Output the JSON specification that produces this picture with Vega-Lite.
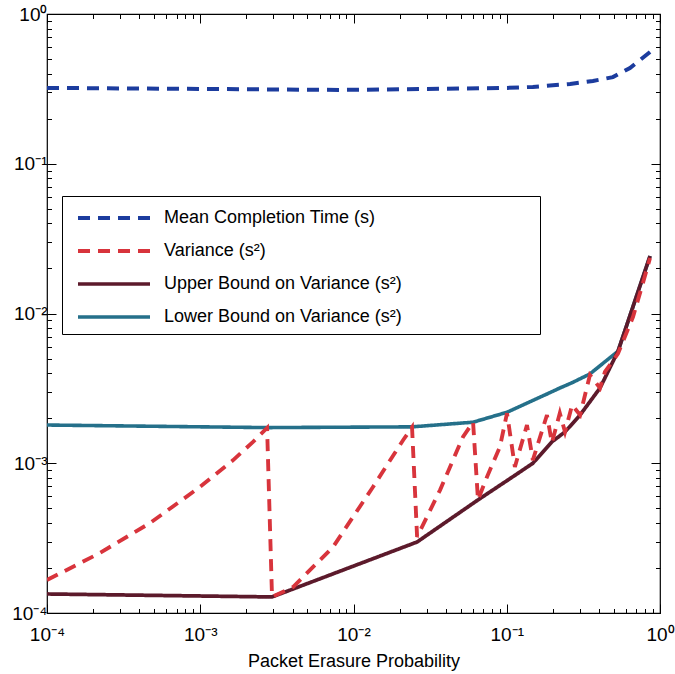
{
  "$schema": "https://vega.github.io/schema/vega-lite/v6.json",
  "width": 613,
  "height": 599,
  "autosize": {"type": "none"},
  "padding": {"left": 47, "top": 14, "right": 15, "bottom": 61},
  "background": "white",
  "config": {
    "font": "Liberation Sans",
    "view": {"stroke": "black", "strokeWidth": 1.2},
    "axis": {"grid": false, "domain": false, "tickColor": "black", "labelColor": "black", "titleColor": "black", "tickWidth": 1},
    "legend": {
      "orient": "none", "legendX": 15, "legendY": 182,
      "strokeColor": "black", "fillColor": "white", "padding": 8,
      "labelFontSize": 18, "labelColor": "black", "labelLimit": 800,
      "symbolType": "M-3,0H3", "symbolSize": 576, "symbolOffset": 30, "labelOffset": 36, "rowPadding": 10
    }
  },
  "data": {"values": [
    {"s": "Lower Bound on Variance (s²)", "x": 0.0001, "y": 0.0018},
    {"s": "Lower Bound on Variance (s²)", "x": 0.00273, "y": 0.00173},
    {"s": "Lower Bound on Variance (s²)", "x": 0.0241, "y": 0.00175},
    {"s": "Lower Bound on Variance (s²)", "x": 0.0603, "y": 0.00188},
    {"s": "Lower Bound on Variance (s²)", "x": 0.1004, "y": 0.00219},
    {"s": "Lower Bound on Variance (s²)", "x": 0.1355, "y": 0.00252},
    {"s": "Lower Bound on Variance (s²)", "x": 0.183, "y": 0.0029},
    {"s": "Lower Bound on Variance (s²)", "x": 0.222, "y": 0.00318},
    {"s": "Lower Bound on Variance (s²)", "x": 0.267, "y": 0.00345},
    {"s": "Lower Bound on Variance (s²)", "x": 0.349, "y": 0.00395},
    {"s": "Lower Bound on Variance (s²)", "x": 0.532, "y": 0.0056},
    {"s": "Lower Bound on Variance (s²)", "x": 0.861, "y": 0.0242},

    {"s": "Upper Bound on Variance (s²)", "x": 0.0001, "y": 0.000134},
    {"s": "Upper Bound on Variance (s²)", "x": 0.00294, "y": 0.000128},
    {"s": "Upper Bound on Variance (s²)", "x": 0.026, "y": 0.000298},
    {"s": "Upper Bound on Variance (s²)", "x": 0.0649, "y": 0.000569},
    {"s": "Upper Bound on Variance (s²)", "x": 0.113, "y": 0.00083},
    {"s": "Upper Bound on Variance (s²)", "x": 0.148, "y": 0.001},
    {"s": "Upper Bound on Variance (s²)", "x": 0.197, "y": 0.00139},
    {"s": "Upper Bound on Variance (s²)", "x": 0.24, "y": 0.00162},
    {"s": "Upper Bound on Variance (s²)", "x": 0.301, "y": 0.0021},
    {"s": "Upper Bound on Variance (s²)", "x": 0.406, "y": 0.00318},
    {"s": "Upper Bound on Variance (s²)", "x": 0.532, "y": 0.0056},
    {"s": "Upper Bound on Variance (s²)", "x": 0.861, "y": 0.0242},

    {"s": "Variance (s²)", "x": 0.0001, "y": 0.000166},
    {"s": "Variance (s²)", "x": 0.000222, "y": 0.000252},
    {"s": "Variance (s²)", "x": 0.00047, "y": 0.000399},
    {"s": "Variance (s²)", "x": 0.000995, "y": 0.000694},
    {"s": "Variance (s²)", "x": 0.00164, "y": 0.00105},
    {"s": "Variance (s²)", "x": 0.00221, "y": 0.00139},
    {"s": "Variance (s²)", "x": 0.00273, "y": 0.00172},
    {"s": "Variance (s²)", "x": 0.00294, "y": 0.000128},
    {"s": "Variance (s²)", "x": 0.00403, "y": 0.000149},
    {"s": "Variance (s²)", "x": 0.00735, "y": 0.000276},
    {"s": "Variance (s²)", "x": 0.0134, "y": 0.000694},
    {"s": "Variance (s²)", "x": 0.0211, "y": 0.00143},
    {"s": "Variance (s²)", "x": 0.0241, "y": 0.00174},
    {"s": "Variance (s²)", "x": 0.026, "y": 0.000322},
    {"s": "Variance (s²)", "x": 0.0367, "y": 0.000662},
    {"s": "Variance (s²)", "x": 0.0518, "y": 0.0015},
    {"s": "Variance (s²)", "x": 0.0603, "y": 0.00188},
    {"s": "Variance (s²)", "x": 0.0649, "y": 0.000569},
    {"s": "Variance (s²)", "x": 0.0743, "y": 0.00081},
    {"s": "Variance (s²)", "x": 0.0903, "y": 0.00129},
    {"s": "Variance (s²)", "x": 0.1004, "y": 0.00216},
    {"s": "Variance (s²)", "x": 0.113, "y": 0.000945},
    {"s": "Variance (s²)", "x": 0.1355, "y": 0.0018},
    {"s": "Variance (s²)", "x": 0.148, "y": 0.00105},
    {"s": "Variance (s²)", "x": 0.183, "y": 0.0021},
    {"s": "Variance (s²)", "x": 0.197, "y": 0.00137},
    {"s": "Variance (s²)", "x": 0.222, "y": 0.00216},
    {"s": "Variance (s²)", "x": 0.24, "y": 0.00162},
    {"s": "Variance (s²)", "x": 0.267, "y": 0.00245},
    {"s": "Variance (s²)", "x": 0.301, "y": 0.0021},
    {"s": "Variance (s²)", "x": 0.349, "y": 0.00388},
    {"s": "Variance (s²)", "x": 0.406, "y": 0.00318},
    {"s": "Variance (s²)", "x": 0.437, "y": 0.00407},
    {"s": "Variance (s²)", "x": 0.532, "y": 0.0054},
    {"s": "Variance (s²)", "x": 0.667, "y": 0.0095},
    {"s": "Variance (s²)", "x": 0.774, "y": 0.016},
    {"s": "Variance (s²)", "x": 0.861, "y": 0.0235},

    {"s": "Mean Completion Time (s)", "x": 0.0001, "y": 0.321},
    {"s": "Mean Completion Time (s)", "x": 0.000995, "y": 0.316},
    {"s": "Mean Completion Time (s)", "x": 0.00816, "y": 0.311},
    {"s": "Mean Completion Time (s)", "x": 0.1004, "y": 0.321},
    {"s": "Mean Completion Time (s)", "x": 0.148, "y": 0.326},
    {"s": "Mean Completion Time (s)", "x": 0.259, "y": 0.341},
    {"s": "Mean Completion Time (s)", "x": 0.365, "y": 0.357},
    {"s": "Mean Completion Time (s)", "x": 0.493, "y": 0.379},
    {"s": "Mean Completion Time (s)", "x": 0.637, "y": 0.436},
    {"s": "Mean Completion Time (s)", "x": 0.861, "y": 0.557}
  ]},
  "resolve": {"axis": {"x": "independent", "y": "independent"}},
  "layer": [
    {
      "mark": {"type": "line", "clip": true},
      "encoding": {
        "x": {
          "field": "x", "type": "quantitative",
          "scale": {"type": "log", "domain": [0.0001, 1], "nice": false},
          "axis": {
            "orient": "bottom",
            "values": [0.0001,0.0002,0.0003,0.0004,0.0005,0.0006,0.0007,0.0008,0.0009,0.001,0.002,0.003,0.004,0.005,0.006,0.007,0.008,0.009,0.01,0.02,0.03,0.04,0.05,0.06,0.07,0.08,0.09,0.1,0.2,0.3,0.4,0.5,0.6,0.7,0.8,0.9,1],
            "labelExpr": "abs(log(datum.value)/LN10 - round(log(datum.value)/LN10)) < 0.001 ? (round(log(datum.value)/LN10) == 0 ? '10⁰' : round(log(datum.value)/LN10) == -1 ? '10⁻¹' : round(log(datum.value)/LN10) == -2 ? '10⁻²' : round(log(datum.value)/LN10) == -3 ? '10⁻³' : '10⁻⁴') : ''",
            "tickSize": {"condition": {"test": "abs(log(datum.value)/LN10 - round(log(datum.value)/LN10)) < 0.001", "value": -9}, "value": -4.5},
            "labelFontSize": 19, "labelPadding": 21, "labelFlush": false, "labelOverlap": false,
            "title": "Packet Erasure Probability", "titleFontSize": 18, "titleFontWeight": "normal", "titlePadding": 4
          }
        },
        "y": {
          "field": "y", "type": "quantitative",
          "scale": {"type": "log", "domain": [0.0001, 1], "nice": false},
          "axis": {
            "orient": "left",
            "values": [0.0001,0.0002,0.0003,0.0004,0.0005,0.0006,0.0007,0.0008,0.0009,0.001,0.002,0.003,0.004,0.005,0.006,0.007,0.008,0.009,0.01,0.02,0.03,0.04,0.05,0.06,0.07,0.08,0.09,0.1,0.2,0.3,0.4,0.5,0.6,0.7,0.8,0.9,1],
            "labelExpr": "abs(log(datum.value)/LN10 - round(log(datum.value)/LN10)) < 0.001 ? (round(log(datum.value)/LN10) == 0 ? '10⁰' : round(log(datum.value)/LN10) == -1 ? '10⁻¹' : round(log(datum.value)/LN10) == -2 ? '10⁻²' : round(log(datum.value)/LN10) == -3 ? '10⁻³' : '10⁻⁴') : ''",
            "tickSize": {"condition": {"test": "abs(log(datum.value)/LN10 - round(log(datum.value)/LN10)) < 0.001", "value": -9}, "value": -4.5},
            "labelFontSize": 19, "labelPadding": 9, "labelFlush": false, "labelOverlap": false,
            "title": null
          }
        },
        "color": {
          "field": "s", "type": "nominal",
          "scale": {
            "domain": ["Mean Completion Time (s)", "Variance (s²)", "Upper Bound on Variance (s²)", "Lower Bound on Variance (s²)"],
            "range": ["#1c3c9e", "#d8343c", "#5c1a2b", "#25708a"]
          },
          "legend": {"title": null, "labelExpr": "datum.label + '\u00a0\u00a0\u00a0\u00a0\u00a0\u00a0\u00a0\u00a0\u00a0\u00a0\u00a0\u00a0\u00a0\u00a0\u00a0\u00a0\u00a0\u00a0\u00a0\u00a0\u00a0\u00a0\u00a0\u00a0\u00a0\u00a0\u200b'"}
        },
        "strokeDash": {
          "field": "s", "type": "nominal",
          "scale": {
            "domain": ["Mean Completion Time (s)", "Variance (s²)", "Upper Bound on Variance (s²)", "Lower Bound on Variance (s²)"],
            "range": [[12, 8], [12, 8], [1, 0], [1, 0]]
          },
          "legend": {"title": null, "labelExpr": "datum.label + '\u00a0\u00a0\u00a0\u00a0\u00a0\u00a0\u00a0\u00a0\u00a0\u00a0\u00a0\u00a0\u00a0\u00a0\u00a0\u00a0\u00a0\u00a0\u00a0\u00a0\u00a0\u00a0\u00a0\u00a0\u00a0\u00a0\u200b'"}
        },
        "strokeWidth": {
          "field": "s", "type": "nominal",
          "scale": {
            "domain": ["Mean Completion Time (s)", "Variance (s²)", "Upper Bound on Variance (s²)", "Lower Bound on Variance (s²)"],
            "range": [4, 3.6, 1.1, 1.1]
          },
          "legend": {"title": null, "labelExpr": "datum.label + '\u00a0\u00a0\u00a0\u00a0\u00a0\u00a0\u00a0\u00a0\u00a0\u00a0\u00a0\u00a0\u00a0\u00a0\u00a0\u00a0\u00a0\u00a0\u00a0\u00a0\u00a0\u00a0\u00a0\u00a0\u00a0\u00a0\u200b'"}
        }
      }
    },
    {
      "mark": {"type": "point", "opacity": 0},
      "encoding": {
        "x": {
          "field": "x", "type": "quantitative",
          "axis": {
            "orient": "top", "labels": false, "title": null,
            "values": [0.0001,0.0002,0.0003,0.0004,0.0005,0.0006,0.0007,0.0008,0.0009,0.001,0.002,0.003,0.004,0.005,0.006,0.007,0.008,0.009,0.01,0.02,0.03,0.04,0.05,0.06,0.07,0.08,0.09,0.1,0.2,0.3,0.4,0.5,0.6,0.7,0.8,0.9,1],
            "tickSize": {"condition": {"test": "abs(log(datum.value)/LN10 - round(log(datum.value)/LN10)) < 0.001", "value": -9}, "value": -4.5}
          }
        },
        "y": {
          "field": "y", "type": "quantitative",
          "axis": {
            "orient": "right", "labels": false, "title": null,
            "values": [0.0001,0.0002,0.0003,0.0004,0.0005,0.0006,0.0007,0.0008,0.0009,0.001,0.002,0.003,0.004,0.005,0.006,0.007,0.008,0.009,0.01,0.02,0.03,0.04,0.05,0.06,0.07,0.08,0.09,0.1,0.2,0.3,0.4,0.5,0.6,0.7,0.8,0.9,1],
            "tickSize": {"condition": {"test": "abs(log(datum.value)/LN10 - round(log(datum.value)/LN10)) < 0.001", "value": -9}, "value": -4.5}
          }
        }
      }
    }
  ]
}
